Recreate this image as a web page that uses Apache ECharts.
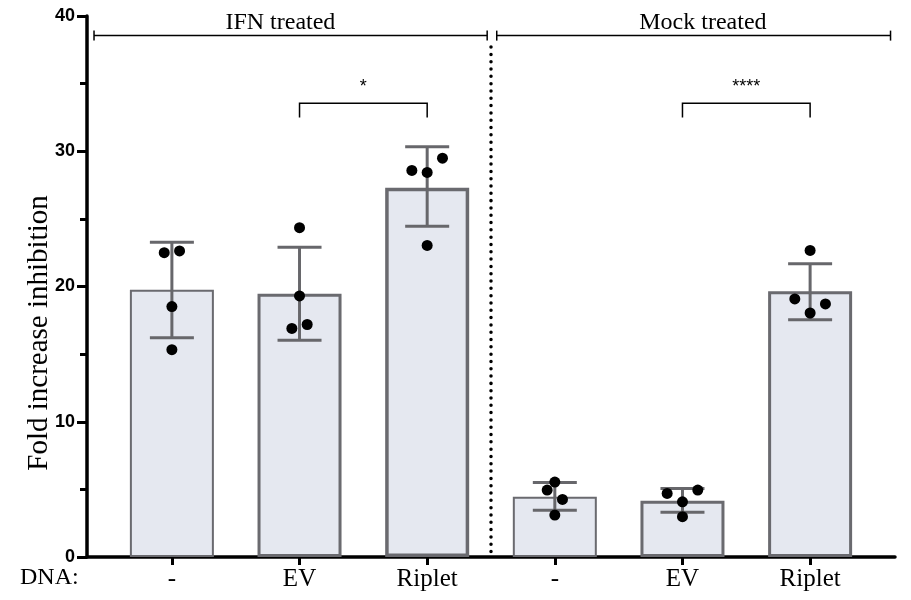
<!DOCTYPE html>
<html>
<head>
<meta charset="utf-8">
<script src="https://cdn.jsdelivr.net/npm/echarts@6/dist/echarts.min.js"></script>
<style>html,body{margin:0;padding:0;background:#fff;}#main{width:911px;height:600px;}</style>
</head>
<body>
<div id="main"></div>
<script>
// ---- data ----
var categories = ['-', 'EV', 'Riplet', '-', 'EV', 'Riplet'];
var means = [19.76, 19.47, 27.3, 4.45, 4.16, 19.65];
var errLow = [16.21, 16.03, 24.45, 3.45, 3.3, 17.55];
var errHigh = [23.27, 22.9, 30.33, 5.5, 5.07, 21.69];
// replicate points: [category index + jitter, value]
var points = [
  [-0.06, 22.5], [0.06, 22.63], [0, 18.52], [0, 15.33],
  [1, 24.35], [1, 19.3], [0.94, 16.9], [1.06, 17.19],
  [1.88, 28.58], [2, 28.43], [2.12, 29.49], [2, 23.04],
  [3, 5.54], [2.94, 4.95], [3.06, 4.26], [3, 3.1],
  [3.88, 4.7], [4.12, 4.95], [4, 4.08], [4, 2.98],
  [5, 22.67], [4.88, 19.08], [5.12, 18.71], [5, 18.04]
];
var borderWidths = [2, 3, 3.5, 2, 3, 3];
var yTicks = [0, 10, 20, 30, 40];
var yTitle = 'Fold increase inhibition';
var groups = [
  {name: 'IFN treated', from: -0.61, to: 2.47, labelAt: 0.85},
  {name: 'Mock treated', from: 2.545, to: 5.63, labelAt: 4.16}
];
var comparisons = [
  {from: 1, to: 2, text: '*'},
  {from: 4, to: 5, text: '****'}
];

var serif = '"Liberation Serif", "Times New Roman", serif';
var sans = '"Liberation Sans", Arial, sans-serif';

var chart = echarts.init(document.getElementById('main'), null, {renderer: 'canvas'});

var barData = means.map(function (v, i) {
  return {value: [i, v], itemStyle: {borderWidth: borderWidths[i]}};
});
var errData = means.map(function (v, i) { return [i, errLow[i], errHigh[i]]; });

chart.setOption({
  animation: false,
  grid: {left: 87, right: 16, top: 16, bottom: 43, outerBoundsMode: 'none', containLabel: false},
  xAxis: {
    type: 'value',
    min: -0.665,
    max: 5.665,
    axisLine: {show: true, onZero: false, lineStyle: {color: '#000', width: 3.5}},
    axisTick: {show: true, length: 8, lineStyle: {color: '#000', width: 3}, customValues: [0, 1, 2, 3, 4, 5]},
    axisLabel: {
      show: true, margin: 10, color: '#000', fontFamily: serif, fontSize: 25,
      customValues: [0, 1, 2, 3, 4, 5],
      formatter: function (v) { return categories[Math.round(v)]; }
    },
    splitLine: {show: false}
  },
  yAxis: {
    type: 'value',
    min: 0, max: 40, interval: 10,
    axisLine: {show: true, onZero: false, lineStyle: {color: '#000', width: 3.5}},
    axisTick: {show: true, length: 10, lineStyle: {color: '#000', width: 3}},
    minorTick: {show: true, splitNumber: 2, length: 7, lineStyle: {color: '#000', width: 3}},
    axisLabel: {
      margin: 12, color: '#000', fontFamily: sans, fontWeight: 'bold', fontSize: 18,
      formatter: function (v) { return yTicks.indexOf(v) >= 0 ? String(v) : ''; }
    },
    splitLine: {show: false}
  },
  graphic: [{
    type: 'text', left: 20, top: 566,
    style: {text: 'DNA:', font: '24px ' + serif, fill: '#000'}
  }, {
    type: 'text', x: 39, y: 333, rotation: Math.PI / 2,
    style: {text: yTitle, font: '29px ' + serif, fill: '#000', align: 'center', verticalAlign: 'middle'}
  }],
  series: [
    {
      type: 'bar',
      data: barData,
      barWidth: 84,
      z: 2,
      itemStyle: {color: '#e5e8f0', borderColor: '#6a6a6f'}
    },
    {
      type: 'custom',
      z: 3,
      data: errData,
      renderItem: function (params, api) {
        var x = api.value(0);
        var top = api.coord([x, api.value(2)]);
        var bot = api.coord([x, api.value(1)]);
        var half = 22;
        var st = {stroke: '#67676b', lineWidth: 3};
        return {type: 'group', children: [
          {type: 'line', shape: {x1: top[0], y1: top[1], x2: bot[0], y2: bot[1]}, style: st},
          {type: 'line', shape: {x1: top[0] - half, y1: top[1], x2: top[0] + half, y2: top[1]}, style: st},
          {type: 'line', shape: {x1: bot[0] - half, y1: bot[1], x2: bot[0] + half, y2: bot[1]}, style: st}
        ]};
      }
    },
    {
      type: 'scatter',
      z: 4,
      data: points,
      symbolSize: 11,
      itemStyle: {color: '#000', opacity: 1}
    },
    {
      // significance brackets
      type: 'custom',
      z: 5,
      data: comparisons.map(function (c) { return [c.from, c.to]; }),
      renderItem: function (params, api) {
        var a = api.coord([api.value(0), 33.55]);
        var b = api.coord([api.value(1), 33.55]);
        var drop = api.coord([api.value(0), 32.5])[1];
        var st = {stroke: '#000', lineWidth: 1.5, fill: null};
        return {type: 'group', children: [
          {type: 'polyline', shape: {points: [[a[0], drop], [a[0], a[1]], [b[0], b[1]], [b[0], drop]]}, style: st},
          {type: 'text', style: {text: comparisons[params.dataIndex].text, x: (a[0] + b[0]) / 2, y: a[1] - 16,
            align: 'center', verticalAlign: 'middle', font: '18px ' + sans, fill: '#000'}}
        ]};
      }
    },
    {
      // group headings
      type: 'custom',
      z: 5,
      data: groups.map(function (g) { return [g.from, g.to, g.labelAt]; }),
      renderItem: function (params, api) {
        var a = api.coord([api.value(0), 38.55]);
        var b = api.coord([api.value(1), 38.55]);
        var t = api.coord([api.value(2), 38.55]);
        var st = {stroke: '#000', lineWidth: 1.5};
        return {type: 'group', children: [
          {type: 'line', shape: {x1: a[0], y1: a[1], x2: b[0], y2: b[1]}, style: st},
          {type: 'line', shape: {x1: a[0], y1: a[1] - 5, x2: a[0], y2: a[1] + 5}, style: st},
          {type: 'line', shape: {x1: b[0], y1: b[1] - 5, x2: b[0], y2: b[1] + 5}, style: st},
          {type: 'text', style: {text: groups[params.dataIndex].name, x: t[0], y: a[1] - 13,
            align: 'center', verticalAlign: 'middle', font: '24px ' + serif, fill: '#000'}}
        ]};
      }
    },
    {
      // dotted divider between groups
      type: 'custom',
      z: 5,
      data: [[2.5, 0, 37.7]],
      renderItem: function (params, api) {
        var t = api.coord([api.value(0), api.value(2)]);
        var b = api.coord([api.value(0), api.value(1)]);
        return {type: 'line', shape: {x1: t[0], y1: t[1], x2: b[0], y2: b[1]},
          style: {stroke: '#000', lineWidth: 3.5, lineDash: [0.01, 7.3], lineCap: 'round'}};
      }
    }
  ]
});
</script>
</body>
</html>
